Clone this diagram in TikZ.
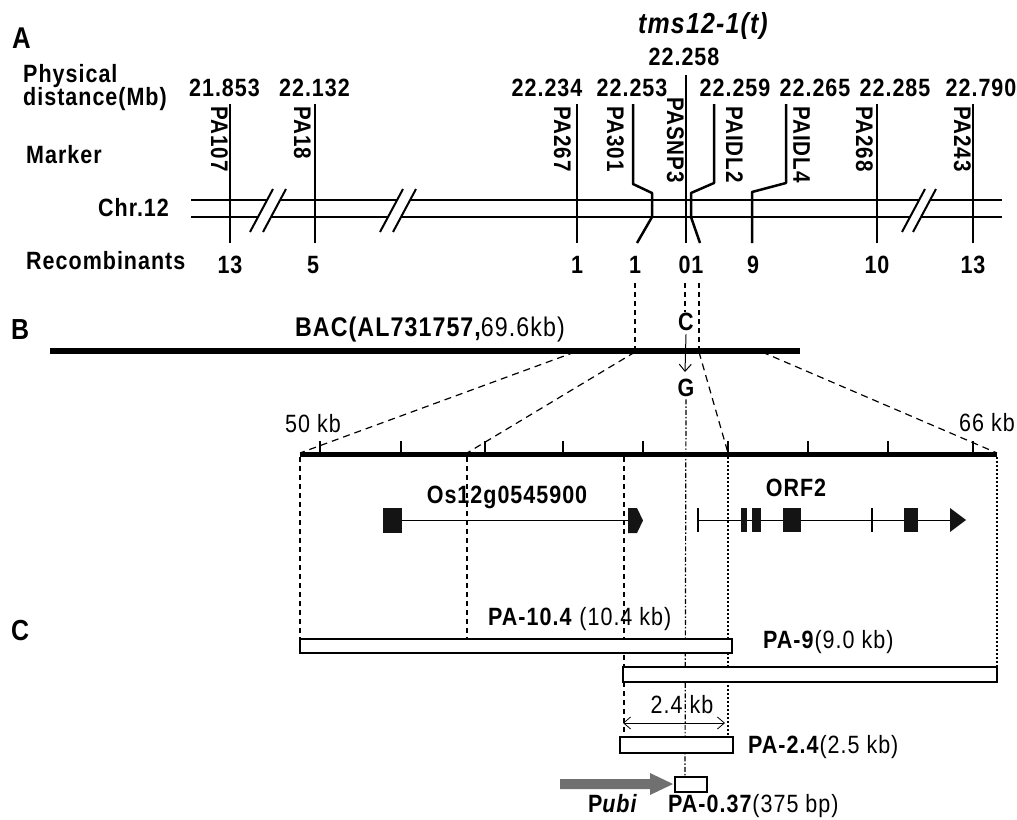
\documentclass[tikz,border=0pt]{standalone}
\usepackage{fontspec}
\setmainfont{Liberation Sans}[FakeStretch=0.86,LetterSpace=4]
\usetikzlibrary{arrows.meta}
\definecolor{arrgray}{RGB}{112,112,112}
\begin{document}
\begin{tikzpicture}[x=1pt,y=-1pt,
  tb/.style={inner sep=0pt,font=\fontsize{25}{27}\selectfont\bfseries},
  tn/.style={inner sep=0pt,font=\fontsize{25}{27}\selectfont},
  mk/.style={inner sep=0pt,font=\fontsize{24}{26}\selectfont\bfseries,rotate=-90,anchor=north west},
  chrline/.style={line width=2.5pt},
  slash/.style={line width=2pt},
  dsh/.style={line width=1.2pt,dash pattern=on 7pt off 5pt},
  vdsh/.style={line width=1.2pt,dash pattern=on 5pt off 4pt},
  ddot/.style={line width=1.2pt,dash pattern=on 5pt off 2pt on 1.5pt off 2pt},
  dtt/.style={line width=1.2pt,dash pattern=on 2pt off 2pt},
  boxshape/.style={draw,line width=2.4pt,fill=white},
  exon/.style={fill=black!92},
  barb/.style={line width=1pt},
]
\useasboundingbox (0,0) rectangle (1017,819);

% ---------------- Part A ----------------
\node[tb,anchor=base west] (lA) at (12,48) {\fontsize{30}{32}\selectfont A};
\node[tb,anchor=base west] (phys1) at (23,82) {Physical};
\node[tb,anchor=base west] (phys2) at (23,105) {distance(Mb)};
\node[tb,anchor=base west] (mkr) at (26,163) {Marker};
\node[tb,anchor=base west] (chrl) at (98,216) {Chr.12};
\node[tb,anchor=base west] (recl) at (26,269) {Recombinants};
\node[tb,anchor=base] (tms) at (703,33) {\fontsize{29}{31}\selectfont\itshape tms12-1(t)};

\foreach \x/\v [count=\i] in {224.5/21.853, 314.5/22.132, 547/22.234, 632/22.253, 735/22.259, 815/22.265, 895/22.285, 981/22.790}
  \node[tb,anchor=base] (pd\i) at (\x,96) {\v};
\node[tb,anchor=base] (pd0) at (684,65) {22.258};

% chromosome
\coordinate (chrTL) at (191,200); \coordinate (chrTR) at (1002,200);
\coordinate (chrBL) at (191,217); \coordinate (chrBR) at (1002,217);
\draw[chrline] (chrTL) -- (chrTR);
\draw[chrline] (chrBL) -- (chrBR);

% breaks
\foreach \a/\b in {250/263, 380/393, 902/913} {
  \fill[white] (\a,232) -- (\a+23,189) -- (\b+23,189) -- (\b,232) -- cycle;
  \draw[slash] (\a,232) -- (\a+23,189);
  \draw[slash] (\b,232) -- (\b+23,189);
}

% marker lines
\draw[chrline] (230,104) -- (230,243);
\draw[chrline] (315,104) -- (315,243);
\draw[chrline] (577,104) -- (577,243);
\draw[chrline,line join=round] (633,104) -- (633,184) -- (652,193) -- (652,217) -- (637,243);
\draw[chrline] (686,75) -- (686,243);
\draw[chrline,line join=round] (714,104) -- (714,183) -- (691,193) -- (691,217) -- (700,243);
\draw[chrline,line join=round] (786,104) -- (786,183) -- (752,192) -- (752,243);
\draw[chrline] (877,104) -- (877,243);
\draw[chrline] (973,104) -- (973,243);

% marker labels
\node[mk] (m1) at (228,106) {PA107};
\node[mk] (m2) at (311,106) {PA18};
\node[mk] (m3) at (571,106) {PA267};
\node[mk] (m4) at (624,106) {PA301};
\node[mk] (m5) at (684,97) {PASNP3};
\node[mk] (m6) at (743,106) {PAIDL2};
\node[mk] (m7) at (810,106) {PAIDL4};
\node[mk] (m8) at (873,106) {PA268};
\node[mk] (m9) at (971,106) {PA243};

% recombinants
\foreach \x/\v [count=\i] in {230/13, 313/5, 577/1, 635/1, 691/01, 753/9, 877/10, 973/13}
  \node[tb,anchor=base] (r\i) at (\x,273) {\v};

% ---------------- Part B ----------------
\node[tb,anchor=base west] (lB) at (11,339) {\fontsize{29}{31}\selectfont B};
\coordinate (bacL) at (50,351); \coordinate (bacR) at (800,351);
\draw[line width=6pt] (bacL) -- (bacR);
\node[tb,anchor=base] (bac) at (430,336) {\fontsize{27}{29}\selectfont BAC(AL731757,{\mdseries 69.6kb)}};

\draw[vdsh] (635,283) -- (635,351);
\draw[vdsh] (699,283) -- (699,351);
\draw[vdsh] (685,283) -- (685,312);
\node[tb,anchor=base] (C) at (686,330) {C};
\node[tb,anchor=base] (G) at (686,396) {G};
\draw[barb,-{Straight Barb[length=7pt,width=12pt]}] (C.south) ++(0,4) coordinate (cS) (cS) -- (685,372);
\draw[ddot] (G.south) ++(0,3) coordinate (gS) (gS) -- (685,777);

% zoom lines
\draw[dsh] (575,352) -- (300,453);
\draw[dsh] (635,352) -- (467,453);
\draw[dsh] (699,352) -- (728,453);
\draw[dsh] (762,352) -- (997,453);

% scale bar
\coordinate (sL) at (300,454); \coordinate (sR) at (997,454);
\draw[line width=5pt] (sL) -- (sR);
\foreach \x in {320,401,485,563,643,728,808,888,973}
  \draw[line width=2pt] (\x,441) -- (\x,454);
\node[tn,anchor=base] (k50) at (313,432) {50 kb};
\node[tn,anchor=base] (k66) at (987,431) {66 kb};

% verticals below scale
\draw[vdsh] (300,457) -- (300,639);
\draw[vdsh] (467,457) -- (467,639);
\draw[vdsh] (624,457) -- (624,737);
\draw[dtt] (728,457) -- (728,737);
\draw[dtt] (997,457) -- (997,667);

% gene models
\node[tb,anchor=base] (os) at (507,503) {Os12g0545900};
\node[tb,anchor=base] (orf) at (796,496) {ORF2};
\fill[exon] (383,508) rectangle (402,533);
\draw[line width=1pt] (402,520) -- (628,520);
\fill[exon] (628,508) -- (637,508) -- (643,520.5) -- (637,533) -- (628,533) -- cycle;
\draw[line width=1pt] (698,520) -- (952,520);
\draw[line width=1.6pt] (698,508) -- (698,532);
\draw[line width=1.6pt] (872,508) -- (872,532);
\fill[exon] (741,508) rectangle (747,532);
\fill[exon] (752,508) rectangle (761,532);
\fill[exon] (783,508) rectangle (801,532);
\fill[exon] (904,508) rectangle (918,532);
\fill[exon] (950,508) -- (966,520) -- (950,532) -- cycle;

% ---------------- Part C ----------------
\node[tb,anchor=base west] (lC) at (11,640) {\fontsize{29}{31}\selectfont C};
\draw[boxshape] (300,639) rectangle (732,653);
\draw[boxshape] (623,667) rectangle (997,682);
\draw[boxshape] (620,737) rectangle (733,753);
\draw[boxshape] (675,777) rectangle (707,792);
\node[tn,anchor=base west] (p104) at (488,625) {\textbf{PA-10.4} (10.4 kb)};
\node[tn,anchor=base west] (p9) at (763,648) {\textbf{PA-9}(9.0 kb)};
\node[tn,anchor=base] (k24) at (682,713) {2.4 kb};
\draw[line width=0.8pt,{Straight Barb[length=7pt,width=12pt]}-{Straight Barb[length=7pt,width=12pt]}] (623,723) -- (725,723);
\node[tn,anchor=base west] (p24) at (748,753) {\textbf{PA-2.4}(2.5 kb)};
\fill[arrgray] (560,779) -- (650,779) -- (650,773) -- (673,784) -- (650,795) -- (650,789) -- (560,789) -- cycle;
\node[tb,anchor=base] (pubi) at (613,812) {P\textit{ubi}};
\node[tn,anchor=base west] (p037) at (668,812) {\textbf{PA-0.37}(375 bp)};
\end{tikzpicture}
\end{document}
